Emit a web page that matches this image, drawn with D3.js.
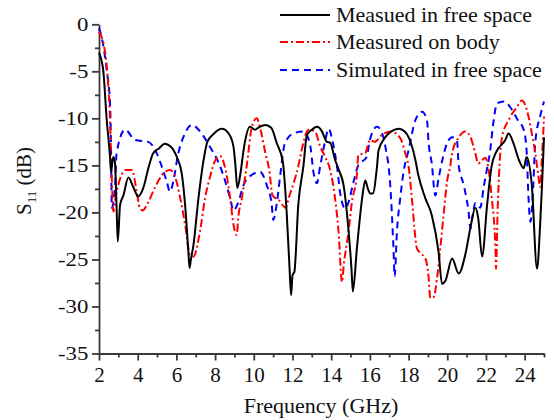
<!DOCTYPE html>
<html>
<head>
<meta charset="utf-8">
<script src="https://cdn.jsdelivr.net/npm/d3@7"></script>
</head>
<body style="margin:0">
<script>
var width = 554,
    height = 420;
var fontName = 'Liberation Serif';

// ---- data ----
var measFreeF = [2.0, 2.1, 2.22, 2.4, 2.57, 2.62, 2.74, 2.82, 2.91, 2.97, 3.09, 3.26, 3.52, 3.77, 4.03, 4.29, 4.55, 4.8, 5.1, 5.4, 5.7, 6.02, 6.28, 6.45, 6.62, 6.68, 6.75, 6.88, 7.14, 7.4, 7.6, 7.9, 8.35, 8.7, 8.95, 9.05, 9.15, 9.3, 9.5, 9.8, 10.07, 10.3, 10.6, 10.9, 11.2, 11.5, 11.7, 11.85, 11.93, 12.0, 12.1, 12.3, 12.57, 12.74, 13.0, 13.26, 13.5, 13.78, 13.95, 14.2, 14.4, 14.64, 14.9, 15.05, 15.12, 15.33, 15.6, 15.76, 15.9, 16.02, 16.15, 16.36, 16.45, 16.8, 17.1, 17.5, 17.8, 18.0, 18.35, 18.5, 18.87, 19.2, 19.55, 19.73, 19.9, 20.25, 20.59, 20.93, 21.19, 21.45, 21.6, 21.8, 22.06, 22.3, 22.5, 23.0, 23.17, 23.43, 23.7, 23.95, 24.1, 24.37, 24.64, 24.8, 24.9, 25.0];
var measFreeDb = [-3.0, -3.6, -4.9, -10.2, -14.1, -15.7, -14.1, -14.6, -19.5, -23.1, -19.2, -18.2, -16.3, -17.3, -18.3, -17.4, -15.3, -13.7, -13.2, -12.7, -13.0, -14.1, -15.9, -19.2, -24.2, -25.9, -25.0, -23.5, -18.5, -14.5, -12.5, -11.7, -11.1, -11.6, -13.0, -15.0, -17.4, -16.0, -13.0, -10.9, -11.2, -10.9, -10.7, -11.0, -12.7, -14.6, -20.0, -26.0, -28.8, -26.7, -26.3, -19.2, -15.0, -11.8, -11.2, -10.9, -11.3, -12.5, -12.6, -14.4, -15.5, -17.1, -22.0, -26.0, -28.4, -23.8, -18.5, -16.6, -17.5, -18.0, -18.0, -15.3, -13.4, -12.0, -11.4, -11.1, -11.4, -12.0, -14.4, -16.0, -18.5, -20.3, -24.2, -27.6, -27.3, -24.9, -26.5, -24.5, -21.7, -19.5, -20.6, -24.7, -19.2, -15.0, -13.7, -12.3, -11.6, -12.7, -14.4, -15.3, -14.1, -17.1, -26.0, -21.3, -17.0, -12.0];

var measBodyF = [2.0, 2.31, 2.48, 2.57, 2.62, 2.68, 2.74, 2.85, 3.17, 3.35, 3.7, 3.95, 4.1, 4.25, 4.55, 4.9, 5.41, 5.67, 5.93, 6.2, 6.45, 6.7, 6.88, 7.22, 7.48, 7.74, 8.0, 8.25, 8.5, 8.78, 8.95, 9.12, 9.2, 9.38, 9.64, 9.9, 10.15, 10.35, 10.6, 10.8, 10.97, 11.3, 11.65, 11.8, 12.1, 12.3, 12.4, 12.83, 13.17, 13.43, 13.69, 13.95, 14.2, 14.38, 14.56, 14.65, 14.9, 15.07, 15.33, 15.4, 15.76, 16.0, 16.25, 16.6, 17.1, 17.57, 17.83, 18.0, 18.17, 18.43, 18.6, 18.87, 19.04, 19.12, 19.3, 19.47, 19.64, 19.81, 19.99, 20.16, 20.25, 20.6, 20.93, 21.2, 21.45, 21.6, 21.97, 22.1, 22.3, 22.49, 22.52, 22.6, 22.7, 22.83, 23.17, 23.6, 23.86, 24.2, 24.37, 24.55, 24.7, 24.8, 24.9, 25.0];
var measBodyDb = [-0.8, -2.9, -6.6, -10.2, -13.7, -17.5, -19.9, -18.5, -16.0, -15.5, -15.5, -17.8, -19.5, -19.8, -18.9, -17.3, -15.7, -15.5, -16.2, -18.5, -21.3, -24.5, -24.7, -22.0, -18.5, -16.2, -14.5, -14.0, -15.1, -18.5, -21.3, -22.4, -20.5, -18.5, -15.0, -10.9, -10.0, -11.2, -13.7, -15.5, -18.2, -18.7, -19.5, -18.5, -16.6, -15.1, -14.1, -11.2, -11.4, -13.0, -14.1, -15.5, -18.5, -22.0, -27.4, -25.6, -22.0, -18.9, -16.0, -13.9, -13.7, -12.3, -12.5, -11.8, -11.4, -12.1, -13.7, -15.1, -18.5, -23.8, -24.3, -24.9, -27.0, -29.1, -29.0, -27.0, -23.8, -20.3, -16.7, -15.0, -13.7, -12.0, -11.4, -12.0, -13.7, -14.8, -14.2, -15.0, -18.5, -23.8, -26.0, -20.0, -15.0, -12.0, -10.2, -8.8, -8.1, -9.8, -11.6, -13.7, -16.0, -17.3, -14.0, -9.8];

var simFreeF = [2.0, 2.15, 2.4, 2.57, 2.62, 2.66, 2.83, 2.91, 3.35, 3.86, 4.55, 4.98, 5.24, 5.5, 5.67, 5.84, 6.1, 6.36, 6.8, 7.3, 7.7, 8.26, 8.78, 8.95, 9.2, 9.47, 9.9, 10.33, 10.67, 10.93, 11.0, 11.2, 11.37, 11.6, 12.05, 12.57, 12.9, 13.1, 13.26, 13.43, 13.7, 13.86, 14.1, 14.3, 14.47, 14.73, 14.9, 15.16, 15.4, 15.84, 16.0, 16.36, 16.55, 16.8, 17.05, 17.22, 17.28, 17.4, 17.57, 17.74, 18.0, 18.35, 18.7, 18.95, 19.04, 19.2, 19.38, 19.55, 19.75, 19.98, 20.25, 20.5, 20.59, 20.85, 21.1, 21.2, 21.3, 21.45, 21.7, 21.9, 22.06, 22.2, 22.4, 22.57, 22.92, 23.35, 23.65, 23.95, 24.1, 24.2, 24.3, 24.4, 24.56, 24.8, 25.0];
var simFreeDb = [-0.4, -1.5, -4.9, -8.4, -13.0, -19.5, -17.1, -13.7, -11.2, -12.3, -12.5, -13.7, -15.1, -16.7, -17.8, -16.7, -13.7, -12.0, -10.7, -11.6, -12.9, -15.1, -18.5, -19.8, -18.9, -17.1, -16.0, -15.7, -17.1, -19.2, -20.8, -18.9, -16.0, -12.7, -11.6, -11.4, -12.7, -15.9, -16.9, -15.1, -12.3, -11.1, -12.7, -15.1, -18.0, -19.6, -18.9, -16.7, -15.0, -14.1, -12.3, -10.9, -11.2, -13.0, -17.0, -23.8, -26.8, -22.0, -18.5, -15.7, -13.4, -10.2, -9.3, -10.2, -12.7, -14.8, -18.2, -16.4, -14.4, -12.7, -12.0, -12.3, -15.0, -17.1, -19.9, -21.7, -20.5, -19.0, -19.5, -17.1, -15.3, -13.7, -10.2, -8.4, -8.2, -9.1, -10.2, -11.2, -13.4, -18.5, -21.0, -19.0, -12.3, -9.8, -8.2];

var seriesNames = ["Measued in free space", "Measured on body", "Simulated in free space"];
var seriesColors = ["#000000", "#ff0000", "#0000ff"];
var seriesDash = [null, "8,3,2,3", "7,5"];

var xMajor = [2, 4, 6, 8, 10, 12, 14, 16, 18, 20, 22, 24];
var xMinor = [3, 5, 7, 9, 11, 13, 15, 17, 19, 21, 23, 25];
var yMajor = [0, -5, -10, -15, -20, -25, -30, -35];
var yMinor = [-2.5, -7.5, -12.5, -17.5, -22.5, -27.5, -32.5];

/* ============================ SCALES ============================ */
var x = d3.scaleLinear().domain([2, 25]).range([99, 544]);
var y = d3.scaleLinear().domain([0, -35]).range([24.3, 353.5]);

var svg = d3.select('body').append('svg')
    .attr('width', width)
    .attr('height', height);

/* ============================ AXES ============================ */
var axisColor = '#3a3a3a';

svg.append('g')
    .attr('class', 'xaxis')
    .attr('transform', 'translate(0,' + y(-35) + ')')
    .call(d3.axisBottom(x).tickValues(xMajor).tickSize(7).tickSizeOuter(0).tickPadding(7));

svg.append('g')
    .attr('transform', 'translate(0,' + y(-35) + ')')
    .call(d3.axisBottom(x).tickValues(xMinor).tickSize(4).tickSizeOuter(0).tickFormat(''))
    .select('.domain').remove();

svg.append('g')
    .attr('class', 'yaxis')
    .attr('transform', 'translate(' + x(2) + ',0)')
    .call(d3.axisLeft(y).tickValues(yMajor).tickSize(7).tickSizeOuter(0));

svg.append('g')
    .attr('transform', 'translate(' + x(2) + ',0)')
    .call(d3.axisLeft(y).tickValues(yMinor).tickSize(4).tickSizeOuter(0).tickFormat(''))
    .select('.domain').remove();

svg.selectAll('.domain, .tick line')
    .attr('stroke', axisColor)
    .attr('stroke-width', 1.8);

// the axis groups carry font-family="sans-serif"; drop it
svg.selectAll('g').attr('font-family', null).attr('font-size', null);

svg.selectAll('.xaxis .tick text')
    .attr('font-family', fontName)
    .attr('font-size', 21)
    .attr('fill', '#111');

svg.selectAll('.yaxis .tick text')
    .attr('font-family', fontName)
    .attr('font-size', 19)
    .attr('fill', '#111')
    .attr('x', -10.7 / 1.2)
    .attr('transform', 'scale(1.2,1)')
    .text(function(d) { return String(d); });   // hyphen, as in the original

/* ============================ TITLES ============================ */
svg.append('text')
    .attr('x', 321)
    .attr('y', 413)
    .attr('text-anchor', 'middle')
    .attr('font-family', fontName)
    .attr('font-size', 22)
    .attr('fill', '#111')
    .text('Frequency (GHz)');

var yt = svg.append('text')
    .attr('transform', 'translate(31,181) rotate(-90)')
    .attr('text-anchor', 'middle')
    .attr('font-family', fontName)
    .attr('font-size', 21)
    .attr('fill', '#111');
yt.append('tspan').text('S');
yt.append('tspan').attr('dy', 5).attr('font-size', 13).text('11');
yt.append('tspan').attr('dy', -5).text(' (dB)');

/* ============================ CURVES ============================ */
var seriesData = [
  d3.zip(measFreeF, measFreeDb),
  d3.zip(measBodyF, measBodyDb),
  d3.zip(simFreeF, simFreeDb)
];

var line = d3.line()
    .x(function(d) { return x(d[0]); })
    .y(function(d) { return y(d[1]); })
    .curve(d3.curveMonotoneX);

// blue first, then red, black on top
[2, 1, 0].forEach(function(i) {
  svg.append('path')
      .datum(seriesData[i])
      .attr('d', line)
      .attr('fill', 'none')
      .attr('stroke', seriesColors[i])
      .attr('stroke-width', 2)
      .attr('stroke-linejoin', 'round')
      .attr('stroke-dasharray', seriesDash[i]);
});

/* ============================ LEGEND ============================ */
var legendY = [15, 42, 70];

seriesNames.forEach(function(name, i) {
  svg.append('line')
      .attr('x1', 280).attr('x2', 330)
      .attr('y1', legendY[i]).attr('y2', legendY[i])
      .attr('stroke', seriesColors[i])
      .attr('stroke-width', 2)
      .attr('stroke-dasharray', seriesDash[i]);
  svg.append('text')
      .attr('x', 336)
      .attr('y', legendY[i] + 7)
      .attr('font-family', fontName)
      .attr('font-size', 22)
      .attr('fill', '#111')
      .text(name);
});
</script>
</body>
</html>
